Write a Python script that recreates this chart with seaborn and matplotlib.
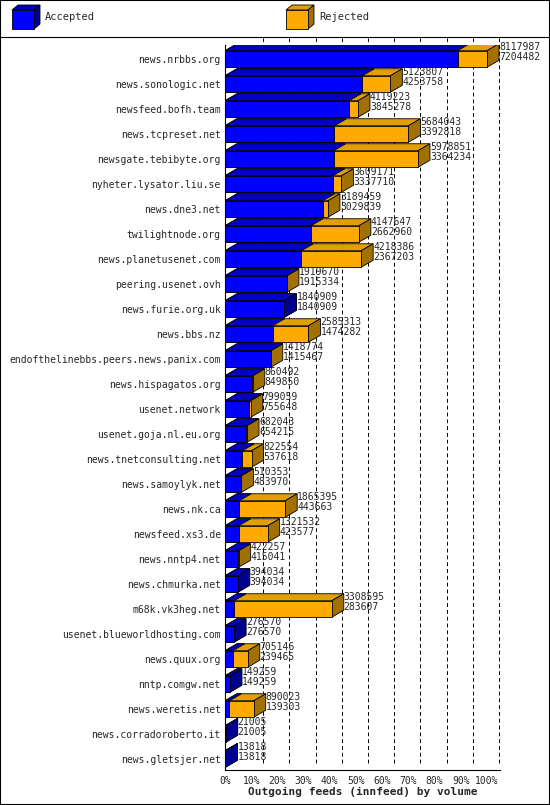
import matplotlib
matplotlib.use("Agg")
import matplotlib.pyplot as plt
import matplotlib.transforms as mtransforms
from matplotlib.patches import Polygon, Rectangle
import seaborn as sns
import pandas as pd

hosts = ["news.nrbbs.org","news.sonologic.net","newsfeed.bofh.team","news.tcpreset.net",
 "newsgate.tebibyte.org","nyheter.lysator.liu.se","news.dne3.net","twilightnode.org",
 "news.planetusenet.com","peering.usenet.ovh","news.furie.org.uk","news.bbs.nz",
 "endofthelinebbs.peers.news.panix.com","news.hispagatos.org","usenet.network",
 "usenet.goja.nl.eu.org","news.tnetconsulting.net","news.samoylyk.net","news.nk.ca",
 "newsfeed.xs3.de","news.nntp4.net","news.chmurka.net","m68k.vk3heg.net",
 "usenet.blueworldhosting.com","news.quux.org","nntp.comgw.net","news.weretis.net",
 "news.corradoroberto.it","news.gletsjer.net"]
offered = [8117987,5123807,4119223,5684043,5978851,3609171,3189459,4147647,4218386,
 1919670,1840909,2585313,1418774,860492,799059,682043,822554,510353,1865395,1321532,
 422257,394034,3308595,276570,705146,149259,890023,21005,13818]
accepted = [7204482,4253758,3845278,3392818,3364234,3337710,3029839,2662960,2367203,
 1915334,1840909,1474282,1415467,849850,755648,654215,537618,483970,443663,423577,
 415041,394034,283607,276570,239465,149259,139303,21005,13818]
pct_ticks = [f"{i}%" for i in range(0, 101, 10)]

BLUE, BLUE_T, BLUE_S = "#0000ff", "#0000c8", "#000090"
ORG, ORG_T, ORG_S = "#ffaa00", "#e0a000", "#a07000"
MONO = "DejaVu Sans Mono"

sns.set_style("white")
plt.rcParams["font.family"] = [MONO]
fig = plt.figure(figsize=(5.5, 8.05), dpi=100)
ax = fig.add_axes([225/550, 1-770/805, 275/550, 725/805])

mx = max(offered)
n = len(hosts)
df = pd.DataFrame({"host": hosts, "offered": offered, "accepted": accepted})
sns.barplot(data=df, x="offered", y="host", color=ORG, saturation=1, width=0.66,
            edgecolor="black", linewidth=0.6, ax=ax, zorder=3)
sns.barplot(data=df, x="accepted", y="host", color=BLUE, saturation=1, width=0.66,
            edgecolor="black", linewidth=0.6, ax=ax, zorder=5)
ax.set_xlim(0, mx * 275 / 262)
ytop, ybot = -14/25, (770-59)/25
ax.set_ylim(ybot, ytop)

DX, DY = 12/100, 7/100
off = ax.transData + mtransforms.ScaledTranslation(DX, DY, fig.dpi_scale_trans)
bars_o = ax.patches[:n]
bars_a = ax.patches[n:2*n]
d = fig.dpi_scale_trans.transform((DX, DY)) - fig.dpi_scale_trans.transform((0, 0))

def box_faces(p, ctop, cside, z, side=True):
    x0, w = p.get_x(), p.get_width()
    y0, h = p.get_y(), p.get_height()
    a, b, c = ax.transData.transform([(x0, y0), (x0 + w, y0), (x0 + w, y0 + h)])
    ax.add_patch(Polygon([a, b, b + d, a + d], closed=True, transform=None, facecolor=ctop,
                         edgecolor="black", linewidth=0.6, zorder=z))
    if side:
        ax.add_patch(Polygon([b, c, c + d, b + d], closed=True, transform=None,
                             facecolor=cside, edgecolor="black", linewidth=0.6, zorder=z))

for po, pa, o, a in zip(bars_o, bars_a, offered, accepted):
    box_faces(po, ORG_T, ORG_S, 2)
    box_faces(pa, BLUE_T, BLUE_S, 4, side=(a >= o))
    ax.text(o, po.get_y() + po.get_height()/2, f"{o}\n{a}", transform=off,
            fontsize=7, family=MONO, va="center", ha="left", linespacing=0.95, zorder=6)

ticks = [mx * i / 10 for i in range(11)]
for t in ticks[1:]:
    ax.plot([t, t], [ybot, ytop], transform=off, color="black",
            linestyle=(0, (4, 3)), linewidth=0.7, zorder=1, clip_on=False)
ax.set_xticks(ticks)
ax.set_xticklabels(pct_ticks, fontsize=7, family=MONO)
ax.tick_params(axis="y", labelsize=7, length=0, pad=3)
ax.tick_params(axis="x", length=3, pad=1)
for lab in ax.get_yticklabels():
    lab.set_family(MONO)
ax.set_ylabel("")
ax.set_xlabel("Outgoing feeds (innfeed) by volume", fontsize=8, fontweight="bold",
              family=MONO, labelpad=1)
for s in ["top", "right"]:
    ax.spines[s].set_visible(False)
for s in ["left", "bottom"]:
    ax.spines[s].set_color("black")
    ax.spines[s].set_linewidth(0.8)

fig.add_artist(plt.Line2D([0, 1], [1-37/805, 1-37/805], color="black", linewidth=0.8,
                          transform=fig.transFigure))
fig.add_artist(Rectangle((0, 0), 1, 1, transform=fig.transFigure, fill=False,
                         edgecolor="black", linewidth=1.5))
for xl, col, ct, cs, lab in [(12, BLUE, BLUE_T, BLUE_S, "Accepted"),
                             (286, ORG, ORG_T, ORG_S, "Rejected")]:
    x0, y0 = xl/550, 1-29/805
    w, h = 22/550, 19/805
    dx, dy = 6/550, 5/805
    fig.add_artist(Polygon([(x0, y0+h), (x0+w, y0+h), (x0+w+dx, y0+h+dy), (x0+dx, y0+h+dy)],
                           transform=fig.transFigure, facecolor=ct, edgecolor="black", lw=0.6))
    fig.add_artist(Polygon([(x0+w, y0), (x0+w, y0+h), (x0+w+dx, y0+h+dy), (x0+w+dx, y0+dy)],
                           transform=fig.transFigure, facecolor=cs, edgecolor="black", lw=0.6))
    fig.add_artist(Rectangle((x0, y0), w, h, transform=fig.transFigure, facecolor=col,
                             edgecolor="black", lw=0.6))
    fig.text(x0 + w + dx + 5/550, y0 + h/2 + 2/805, lab, fontsize=7.5, family=MONO, va="center")

fig.savefig("out.png", dpi=100)
